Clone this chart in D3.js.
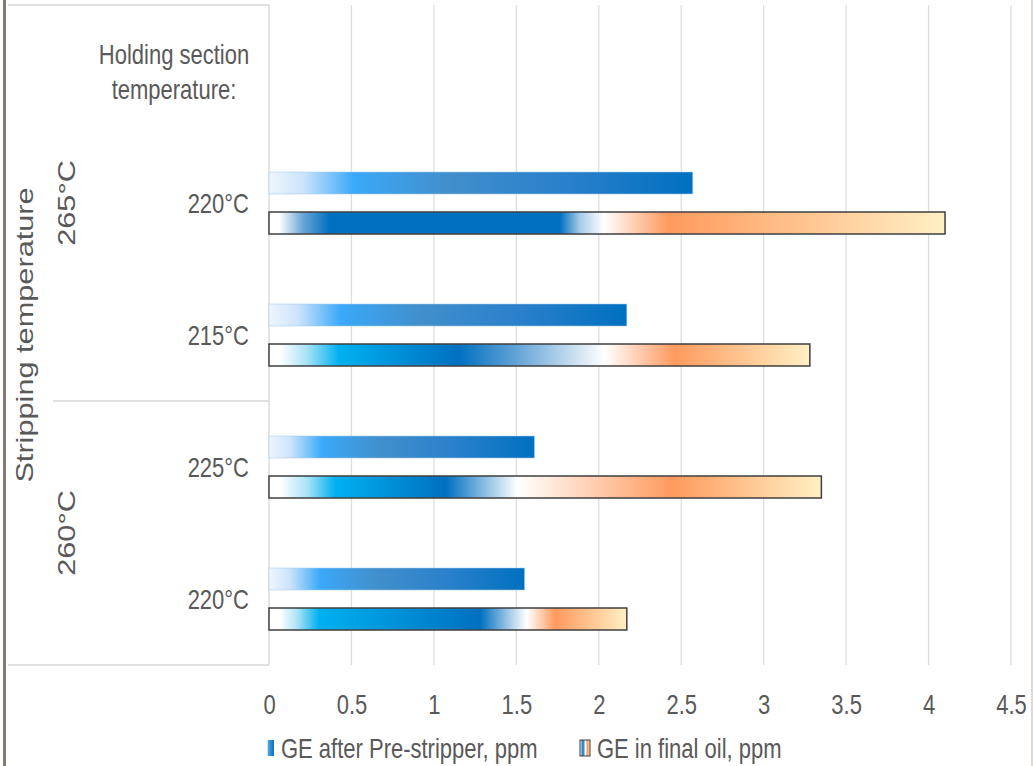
<html>
<script src='https://d3js.org/d3.v7.min.js'></script>
<style>
    body { margin: 0; background: #ffffff; }
    text {
        font-family: "Liberation Sans", Arial, sans-serif;
        fill: #595959;
    }
</style>
    <body onload='init()'>
        <svg width=1033 height=766 id="chart1">
        </svg>
        <script>
            // rows top to bottom (the first one is the header row with no bars)
            var rowIds = ["head", "r265_220", "r265_215", "r260_225", "r260_220"];
            var rowLabels = [["Holding section", "temperature:"], ["220°C"], ["215°C"], ["225°C"], ["220°C"]];
            var preStripper = [null, 2.57, 2.17, 1.61, 1.55];
            var finalOil = [null, 4.10, 3.28, 3.35, 2.17];
            var stripGroups = ["265°C", "260°C"];
            var stripGroupRows = [["head", "r265_215"], ["r260_225", "r260_220"]];
            var xTicks = [0, 0.5, 1, 1.5, 2, 2.5, 3, 3.5, 4, 4.5];
            var seriesNames = ["GE after Pre-stripper, ppm", "GE in final oil, ppm"];

            // gradient styling
            var blueStops = [[0, "#eef5fd"], [0.08, "#cde4fb"], [0.2, "#3aa9f9"], [0.42, "#418fcc"], [0.7, "#2a80cb"], [1, "#0070c0"]];
            var finalStops = [
                null,
                [[0, "#ffffff"], [0.015, "#ffffff"], [0.05, "#6aa6d8"], [0.09, "#0070c0"], [0.43, "#0070c0"], [0.46, "#a9cbe8"], [0.495, "#ffffff"], [0.59, "#ff9a5e"], [1, "#fff0c4"]],
                [[0, "#ffffff"], [0.02, "#ffffff"], [0.07, "#a8e2f7"], [0.13, "#00b0f0"], [0.35, "#0070c0"], [0.45, "#5c9fd5"], [0.62, "#ffffff"], [0.75, "#ff9a5e"], [1, "#fff0c4"]],
                [[0, "#ffffff"], [0.02, "#ffffff"], [0.07, "#a8e2f7"], [0.12, "#00b0f0"], [0.32, "#0070c0"], [0.45, "#ffffff"], [0.73, "#ff9a5e"], [1, "#fff0c4"]],
                [[0, "#ffffff"], [0.03, "#ffffff"], [0.08, "#a8e2f7"], [0.14, "#00b0f0"], [0.59, "#0070c0"], [0.68, "#b6d3ec"], [0.72, "#ffffff"], [0.80, "#ff9a5e"], [1, "#fff0c4"]]
            ];
            var legendStops = [[0, "#ffffff"], [0.3, "#0070c0"], [0.55, "#ffffff"], [0.75, "#ff9a5e"], [1, "#ffe8c0"]];

            var stretch = 1.28; // text in the picture is drawn taller than wide

            function init() {
                var svg = d3.select("svg");
                var defs = svg.append("defs");

                function addGradient(id, stops) {
                    var g = defs.append("linearGradient").attr("id", id)
                        .attr("x1", "0").attr("x2", "1").attr("y1", "0").attr("y2", "0");
                    stops.forEach(function (s) {
                        g.append("stop").attr("offset", s[0]).attr("stop-color", s[1]);
                    });
                }
                addGradient("gBlue", blueStops);
                finalStops.forEach(function (s, i) { if (s) addGradient("gFinal" + i, s); });
                addGradient("gLegend", legendStops);

                function label(x, y, str, anchor) {
                    return svg.append("text")
                        .attr("transform", "translate(" + x + "," + y + ") scale(1," + stretch + ")")
                        .attr("text-anchor", anchor || "start")
                        .attr("font-size", 22)
                        .text(str);
                }
                function vlabel(x, y, str) {
                    return svg.append("text")
                        .attr("transform", "translate(" + x + "," + y + ") rotate(-90) scale(" + stretch + ",1)")
                        .attr("text-anchor", "middle")
                        .attr("font-size", 24)
                        .text(str);
                }

                var x = d3.scaleLinear().domain([0, 4.5]).range([269, 1011]);
                var y = d3.scaleBand().domain(rowIds).range([5, 665]);
                var bw = y.bandwidth();

                // page borders
                svg.append("line").attr("x1", 4.5).attr("x2", 4.5).attr("y1", 0).attr("y2", 766)
                    .attr("stroke", "#857a75").attr("stroke-width", 3);
                svg.append("line").attr("x1", 1032).attr("x2", 1032).attr("y1", 0).attr("y2", 766)
                    .attr("stroke", "#d0cccc").attr("stroke-width", 1.5);

                // gridlines
                svg.append("g").selectAll("line").data(xTicks.slice(1)).enter().append("line")
                    .attr("x1", function (d) { return x(d); }).attr("x2", function (d) { return x(d); })
                    .attr("y1", 5).attr("y2", 665)
                    .attr("stroke", "#dedede").attr("stroke-width", 1.3);

                // category box
                var box = svg.append("g").attr("stroke", "#d6d6d6").attr("stroke-width", 1.3);
                box.append("line").attr("x1", 8).attr("x2", x(0)).attr("y1", 5).attr("y2", 5);
                box.append("line").attr("x1", 8).attr("x2", x(0)).attr("y1", 665).attr("y2", 665);
                box.append("line").attr("x1", x(0)).attr("x2", x(0)).attr("y1", 5).attr("y2", 665);
                box.append("line").attr("x1", 53).attr("x2", x(0))
                    .attr("y1", y(stripGroupRows[1][0])).attr("y2", y(stripGroupRows[1][0]));

                // bars
                var rows = rowIds.map(function (id, i) { return { id: id, pre: preStripper[i], fin: finalOil[i], i: i }; })
                    .filter(function (d) { return d.pre != null; });

                svg.append("g").selectAll("rect").data(rows).enter().append("rect")
                    .attr("x", x(0))
                    .attr("y", function (d) { return y(d.id) + bw / 2 - 31; })
                    .attr("width", function (d) { return x(d.pre) - x(0); })
                    .attr("height", 22)
                    .attr("fill", "url(#gBlue)")
                    .attr("stroke", "#a9cdef").attr("stroke-width", 0.8).attr("stroke-opacity", 0.7);

                svg.append("g").selectAll("rect").data(rows).enter().append("rect")
                    .attr("x", x(0))
                    .attr("y", function (d) { return y(d.id) + bw / 2 + 9; })
                    .attr("width", function (d) { return x(d.fin) - x(0); })
                    .attr("height", 22)
                    .attr("fill", function (d) { return "url(#gFinal" + d.i + ")"; })
                    .attr("stroke", "#3f3f3f").attr("stroke-width", 1.5);

                // row labels
                rowIds.forEach(function (id, i) {
                    var lines = rowLabels[i];
                    var cy = y(id) + bw / 2;
                    lines.forEach(function (l, k) {
                        var yy = cy + 10 + (k - (lines.length - 1) / 2) * 35;
                        if (lines.length > 1) label(174, yy, l, "middle");
                        else label(249, yy, l, "end");
                    });
                });

                // stripping temperature group labels
                stripGroups.forEach(function (g, i) {
                    var top = y(stripGroupRows[i][0]);
                    var bot = y(stripGroupRows[i][1]) + bw;
                    vlabel(75, (top + bot) / 2, g);
                });
                vlabel(33, (5 + 665) / 2, "Stripping temperature");

                // x axis
                var ax = svg.append("g")
                    .attr("transform", "translate(0,665)")
                    .call(d3.axisBottom(x).tickValues(xTicks).tickSize(0).tickFormat(function (d) { return d; }));
                ax.select(".domain").remove();
                ax.selectAll("text")
                    .attr("font-size", 22)
                    .attr("font-family", null)
                    .attr("fill", "#595959")
                    .attr("y", 0).attr("dy", 0)
                    .attr("transform", "translate(0,49) scale(1," + stretch + ")");

                // legend
                svg.append("rect").attr("x", 267).attr("y", 740).attr("width", 7).attr("height", 16)
                    .attr("fill", "url(#gBlue)");
                label(281, 758, seriesNames[0]);
                svg.append("rect").attr("x", 580).attr("y", 740).attr("width", 10).attr("height", 16)
                    .attr("fill", "url(#gLegend)").attr("stroke", "#404040").attr("stroke-width", 1);
                label(597, 758, seriesNames[1]);
            }
        </script>
    </body>
</html>
